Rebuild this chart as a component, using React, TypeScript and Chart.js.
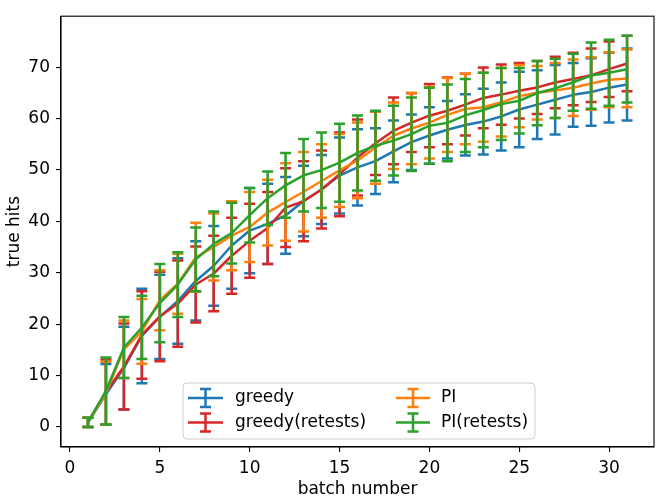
import React, { useEffect, useRef } from 'react';
import { Chart, registerables } from 'chart.js';

Chart.register(...registerables);

// ---------------- data ----------------
const batches = [1, 2, 3, 4, 5, 6, 7, 8, 9, 10, 11, 12, 13, 14, 15, 16, 17, 18, 19, 20, 21, 22, 23, 24, 25, 26, 27, 28, 29, 30, 31];

const greedyMean = [0.9, 6.35, 11.45, 17.7, 21.4, 24.5, 28.4, 31.35, 35.3, 38.2, 39.5, 41.15, 43.95, 46.2, 48.9, 50.5, 51.7, 53.6, 55.4, 56.7, 57.8, 58.75, 59.4, 60.4, 61.75, 62.7, 63.65, 64.6, 65.15, 66.0, 66.6];
const greedyErr = [0.9, 5.9, 8.05, 9.2, 8.2, 8.3, 7.7, 7.75, 8.4, 8.3, 7.8, 7.45, 6.85, 6.7, 7.4, 7.4, 6.4, 6.0, 5.4, 5.5, 5.6, 5.95, 6.4, 6.6, 7.35, 6.7, 6.75, 6.2, 6.55, 6.8, 7.0];

const greedyRetestsMean = [0.9, 6.8, 11.75, 17.9, 21.5, 24.0, 27.7, 29.85, 33.3, 36.2, 38.7, 42.65, 43.9, 46.2, 49.15, 52.4, 55.2, 57.6, 59.2, 60.55, 61.5, 62.7, 64.0, 64.65, 65.4, 66.05, 67.0, 67.7, 68.4, 69.6, 70.7];
const greedyRetestsErr = [0.9, 6.3, 8.35, 8.5, 8.7, 8.4, 7.4, 7.35, 7.4, 7.2, 7.0, 7.65, 7.8, 7.6, 8.15, 7.4, 6.2, 6.5, 5.7, 6.15, 6.5, 6.0, 5.9, 5.85, 5.4, 5.15, 5.0, 5.1, 5.2, 5.4, 5.4];

const piMean = [0.9, 6.6, 15.1, 18.6, 24.65, 27.85, 33.0, 35.0, 37.2, 38.9, 41.7, 43.75, 45.75, 47.85, 49.9, 51.85, 54.3, 56.65, 58.05, 59.2, 60.7, 61.85, 62.2, 63.15, 64.35, 65.0, 65.45, 66.0, 66.8, 67.55, 67.8];
const piErr = [0.9, 6.1, 5.6, 6.3, 5.85, 5.85, 6.7, 6.5, 6.7, 6.8, 6.4, 7.55, 7.75, 7.15, 7.1, 7.35, 7.0, 6.45, 6.95, 7.0, 7.2, 6.85, 6.7, 6.65, 6.05, 5.2, 5.35, 5.5, 5.1, 5.35, 5.6];

const piRetestsMean = [0.9, 7.0, 15.45, 19.35, 24.1, 27.7, 32.6, 35.6, 37.7, 41.2, 44.5, 47.0, 48.95, 49.95, 51.4, 53.3, 54.7, 55.7, 56.95, 58.6, 59.15, 60.6, 61.65, 62.8, 63.45, 64.95, 65.85, 67.05, 68.35, 68.9, 69.6];
const piRetestsErr = [0.9, 6.5, 5.95, 6.15, 7.6, 6.3, 6.2, 6.3, 5.9, 5.3, 5.2, 6.3, 7.05, 7.35, 7.6, 7.3, 6.8, 6.8, 7.15, 7.4, 7.45, 7.1, 7.25, 7.0, 6.35, 6.25, 5.75, 5.55, 6.45, 6.4, 6.5];

const seriesLabels = ['greedy', 'greedy(retests)', 'PI', 'PI(retests)'];
const xTicks = [0, 5, 10, 15, 20, 25, 30];
const yTicks = [0, 10, 20, 30, 40, 50, 60, 70];
const xLabel = 'batch number';
const yLabel = 'true hits';

// ---------------- style ----------------
const COLORS = ['#1f77b4', '#d62728', '#ff7f0e', '#2ca02c'];
const FONT = 'DejaVu Sans';
const FS = 17;
const LW = 2.5;
const CAP = 5.5;

const errorBarPlugin = {
  id: 'errorBars',
  beforeDatasetDraw(chart: any, args: any) {
    const ds = chart.data.datasets[args.index];
    const errs: number[] = ds.errors;
    if (!errs) return;
    const ctx = chart.ctx;
    const xs = chart.scales.x;
    const ys = chart.scales.y;
    ctx.save();
    ctx.strokeStyle = ds.borderColor;
    ctx.lineWidth = LW;
    ctx.lineCap = 'butt';
    ds.data.forEach((p: any, i: number) => {
      const px = xs.getPixelForValue(p.x);
      const top = ys.getPixelForValue(p.y + errs[i]);
      const bot = ys.getPixelForValue(p.y - errs[i]);
      ctx.beginPath();
      ctx.moveTo(px, top);
      ctx.lineTo(px, bot);
      ctx.moveTo(px - CAP, top);
      ctx.lineTo(px + CAP, top);
      ctx.moveTo(px - CAP, bot);
      ctx.lineTo(px + CAP, bot);
      ctx.stroke();
    });
    ctx.restore();
  },
};

const framePlugin = {
  id: 'frame',
  afterDatasetsDraw(chart: any) {
    const { ctx, chartArea: a } = chart;
    ctx.save();
    ctx.strokeStyle = '#000';
    ctx.lineWidth = 1.1;
    ctx.strokeRect(a.left, a.top, a.right - a.left, a.bottom - a.top);
    ctx.restore();
  },
};

function roundRect(ctx: CanvasRenderingContext2D, x: number, y: number, w: number, h: number, r: number) {
  ctx.beginPath();
  ctx.moveTo(x + r, y);
  ctx.lineTo(x + w - r, y);
  ctx.quadraticCurveTo(x + w, y, x + w, y + r);
  ctx.lineTo(x + w, y + h - r);
  ctx.quadraticCurveTo(x + w, y + h, x + w - r, y + h);
  ctx.lineTo(x + r, y + h);
  ctx.quadraticCurveTo(x, y + h, x, y + h - r);
  ctx.lineTo(x, y + r);
  ctx.quadraticCurveTo(x, y, x + r, y);
  ctx.closePath();
}

const legendPlugin = {
  id: 'mplLegend',
  afterDraw(chart: any) {
    const { ctx, chartArea: a } = chart;
    const boxW = 352;
    const boxH = 56;
    const cx = (a.left + a.right) / 2 + 1.5;
    const x0 = cx - boxW / 2;
    const y0 = a.bottom - 8 - boxH;
    ctx.save();
    roundRect(ctx, x0, y0, boxW, boxH, 4);
    ctx.fillStyle = 'rgba(255,255,255,0.8)';
    ctx.fill();
    ctx.strokeStyle = '#cccccc';
    ctx.lineWidth = 1;
    ctx.stroke();
    const cols = [
      { hx0: x0 + 5, hx1: x0 + 40, tx: x0 + 52 },
      { hx0: x0 + 213, hx1: x0 + 247, tx: x0 + 258 },
    ];
    const rows = [y0 + 15, y0 + 39.5];
    seriesLabels.forEach((label, i) => {
      const col = cols[Math.floor(i / 2)];
      const y = rows[i % 2];
      const mx = (col.hx0 + col.hx1) / 2;
      ctx.strokeStyle = COLORS[i];
      ctx.lineWidth = LW;
      ctx.beginPath();
      ctx.moveTo(col.hx0, y);
      ctx.lineTo(col.hx1, y);
      ctx.moveTo(mx, y - 9);
      ctx.lineTo(mx, y + 9);
      ctx.moveTo(mx - CAP, y - 9);
      ctx.lineTo(mx + CAP, y - 9);
      ctx.moveTo(mx - CAP, y + 9);
      ctx.lineTo(mx + CAP, y + 9);
      ctx.stroke();
      ctx.fillStyle = '#000';
      ctx.font = `${FS}px "${FONT}"`;
      ctx.textBaseline = 'middle';
      ctx.textAlign = 'left';
      ctx.fillText(label, col.tx, y);
    });
    ctx.restore();
  },
};

export default function App() {
  const ref = useRef<HTMLCanvasElement | null>(null);

  useEffect(() => {
    if (!ref.current) return;
    const means = [greedyMean, greedyRetestsMean, piMean, piRetestsMean];
    const errs = [greedyErr, greedyRetestsErr, piErr, piRetestsErr];
    const font = { family: FONT, size: FS };
    const chart = new Chart(ref.current, {
      type: 'line',
      data: {
        datasets: seriesLabels.map((label, i) => ({
          label,
          data: batches.map((b, j) => ({ x: b, y: means[i][j] })),
          errors: errs[i],
          order: seriesLabels.length - i,
          borderColor: COLORS[i],
          backgroundColor: COLORS[i],
          borderWidth: LW,
          pointRadius: 0,
          tension: 0,
          borderJoinStyle: 'round',
          borderCapStyle: 'butt',
          fill: false,
        })) as any,
      },
      options: {
        animation: false,
        responsive: false,
        devicePixelRatio: 1,
        layout: { padding: { top: 5, right: 12, left: 0, bottom: 0 } },
        plugins: {
          legend: { display: false },
          tooltip: { enabled: false },
        },
        scales: {
          x: {
            type: 'linear',
            min: -0.5,
            max: 32.5,
            afterBuildTicks: (s: any) => {
              s.ticks = xTicks.map((v) => ({ value: v }));
            },
            afterFit: (s: any) => {
              s.height = 54;
            },
            grid: { drawOnChartArea: false, drawTicks: true, tickLength: 5, color: '#000', lineWidth: 1.1 },
            border: { display: true, color: '#000', width: 1.1 },
            ticks: { font, color: '#000', padding: 6, autoSkip: false, maxRotation: 0 },
            title: { display: true, text: xLabel, font, color: '#000', padding: { top: 0, bottom: 1.5 } },
          },
          y: {
            type: 'linear',
            min: -3.9,
            max: 79.9,
            afterBuildTicks: (s: any) => {
              s.ticks = yTicks.map((v) => ({ value: v }));
            },
            afterFit: (s: any) => {
              s.width = 61;
            },
            grid: { drawOnChartArea: false, drawTicks: true, tickLength: 5, color: '#000', lineWidth: 1.1 },
            border: { display: true, color: '#000', width: 1.1 },
            ticks: { font, color: '#000', padding: 6, autoSkip: false },
            title: { display: true, text: yLabel, font, color: '#000', padding: { top: 4, bottom: 4 } },
          },
        },
      } as any,
      plugins: [errorBarPlugin, framePlugin, legendPlugin],
    });
    return () => chart.destroy();
  }, []);

  return (
    <div style={{ position: 'fixed', left: 0, top: 0, width: 666, height: 501, background: '#fff' }}>
      <canvas ref={ref} width={666} height={501} style={{ display: 'block', width: 666, height: 501 }} />
    </div>
  );
}
